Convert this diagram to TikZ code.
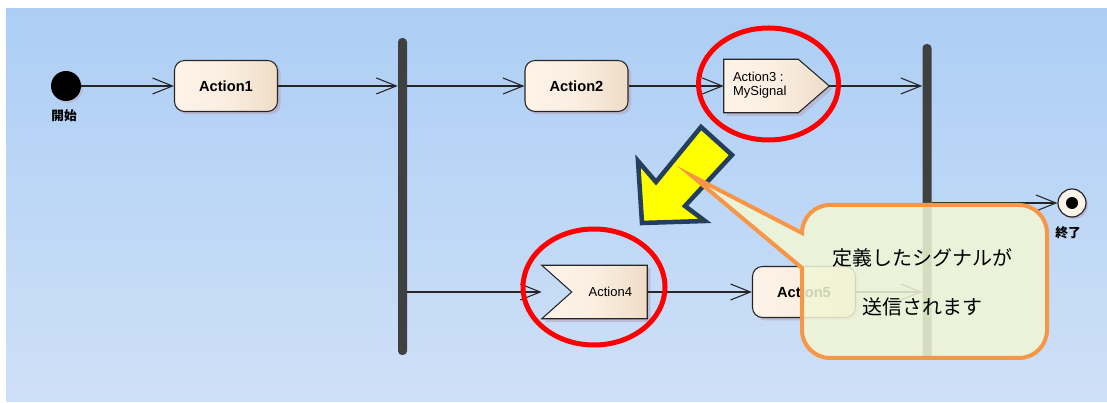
\documentclass[tikz,border=0pt]{standalone}
\usepackage{fontspec}
\setmainfont{Liberation Sans}
\newfontfamily\jp{Noto Sans CJK JP}
\usetikzlibrary{arrows.meta,shadows}
\definecolor{bgtop}{RGB}{172,206,245}
\definecolor{bgbot}{RGB}{207,224,247}
\definecolor{boxl}{RGB}{254,243,232}
\definecolor{boxr}{RGB}{238,220,198}
\definecolor{shadowc}{RGB}{185,178,205}
\definecolor{barc}{RGB}{64,64,64}
\definecolor{sigred}{RGB}{255,0,0}
\definecolor{arrowyel}{RGB}{255,255,0}
\definecolor{arrownavy}{RGB}{36,62,94}
\definecolor{callfill}{RGB}{242,247,214}
\definecolor{callline}{RGB}{247,150,70}
\definecolor{finalfill}{RGB}{252,244,234}
\begin{document}
\begin{tikzpicture}[x=0.75pt,y=0.75pt,
  boxshadow/.style={drop shadow={shadow xshift=2.25pt,shadow yshift=-2.25pt,fill=shadowc,opacity=0.8}},
  actionbox/.style={draw=black!85, line width=0.8pt, rounded corners=7.5pt,
    left color=boxl, right color=boxr, middle color=boxl!80!boxr, boxshadow,
    minimum width=77.25pt, minimum height=38.25pt, inner sep=0pt,
    font=\bfseries\fontsize{11}{13}\selectfont},
  sigshape/.style={draw=none, minimum width=78.75pt, minimum height=39.75pt, inner sep=0pt},
  sigfill/.style={draw=black!85, line width=0.8pt, line join=miter,
    left color=boxl, right color=boxr, middle color=boxl!80!boxr, boxshadow},
  sigtext/.style={font=\fontsize{9.75}{10.5}\selectfont, align=left, inner sep=0pt},
  forkbar/.style={fill=barc, draw=none, rounded corners=3pt, minimum width=6.75pt, inner sep=0pt},
  flow/.style={draw=black!85, line width=0.8pt, -{Straight Barb[length=15pt,width=12pt,line width=0.8pt]}},
  redring/.style={draw=sigred, line width=3.75pt},
  nodelabel/.style={font=\jp\bfseries\fontsize{9.5}{11}\selectfont, inner sep=0pt},
  calltext/.style={font=\jp\fontsize{15}{18}\selectfont, inner sep=0pt}
]
\useasboundingbox (0,0) rectangle (1107,403);
% background
\fill[white] (0,0) rectangle (1107,403);
\shade[top color=bgtop, bottom color=bgbot] (6,1) rectangle (1107,394);

% nodes
\node[circle, fill=black, minimum size=22.5pt, inner sep=0pt,
  drop shadow={shadow xshift=1.5pt,shadow yshift=-1.5pt,fill=shadowc,opacity=0.6}] (start) at (66,317) {};
\node[nodelabel] (startlbl) at (64,287) {開始};
\node[actionbox] (a1) at (226,317) {Action1};
\node[actionbox] (a2) at (576.5,317) {Action2};
\node[forkbar, minimum height=237.75pt] (fork1) at (402.5,206.5) {};
\node[forkbar, minimum height=237pt] (fork2) at (927,201) {};

\node[sigshape] (a3) at (776.5,317) {};
\path[sigfill] (a3.north west) -- ([xshift=-23.25pt]a3.north east) -- (a3.east)
  -- ([xshift=-23.25pt]a3.south east) -- (a3.south west) -- cycle;
\node[sigtext, anchor=west] (a3text) at ([xshift=6.75pt,yshift=0.5pt]a3.west) {Action3 :\\MySignal};

\node[sigshape] (a4) at (594.5,111) {};
\path[sigfill] (a4.north west) -- (a4.north east) -- (a4.south east)
  -- (a4.south west) -- ([xshift=22.5pt]a4.west) -- cycle;
\node[sigtext, anchor=east] (a4text) at ([xshift=-11.25pt]a4.east) {Action4};

\node[actionbox] (a5) at (804,111) {Action5};

\node[circle, draw=black!85, line width=0.9pt, fill=finalfill, minimum size=21pt, inner sep=0pt,
  drop shadow={shadow xshift=1.5pt,shadow yshift=-1.5pt,fill=shadowc,opacity=0.8}] (final) at (1072,200) {};
\fill[black] (final.center) circle (4.5pt);
\node[nodelabel] (finallbl) at (1068,170) {終了};

% connectors
\draw[flow] (start) -- (a1);
\draw[flow] (a1) -- (a1 -| fork1.west);
\draw[flow] (fork1.east |- a2) -- (a2);
\draw[flow] (a2) -- (a3);
\draw[flow] (a3.east) -- (a3.east -| fork2.west);
\draw[flow] (fork1.east |- a4) -- (a4.west);
\draw[flow] (a4.east) -- (a5);
\draw[flow] (a5) -- (a5 -| fork2.west);
\draw[flow] (fork2.east |- final) -- (final);

% red rings
\draw[redring] (768.5,319) ellipse [x radius=52.5pt, y radius=42pt];
\draw[redring] (594,116) ellipse [x radius=53.25pt, y radius=43.5pt];

% yellow arrow
\draw[fill=arrowyel, draw=arrownavy, line width=3.4pt, line join=miter]
  (642,180) -- (638,242) -- (656,221) -- (701,276) -- (732,248)
  -- (685,197) -- (705,182) -- cycle;

% callout
\path[fill=callfill, fill opacity=0.85, draw=callline, line width=3pt]
  (802,135) -- (802,73) arc[start angle=180, end angle=270, radius=21pt]
  -- (1019,45) arc[start angle=270, end angle=360, radius=21pt]
  -- (1047,170) arc[start angle=0, end angle=90, radius=21pt]
  -- (830,198) arc[start angle=90, end angle=180, radius=21pt]
  -- (692,227) -- cycle;
\node[calltext] (call1) at (922,145) {定義したシグナルが};
\node[calltext] (call2) at (922,96) {送信されます};
\end{tikzpicture}
\end{document}
